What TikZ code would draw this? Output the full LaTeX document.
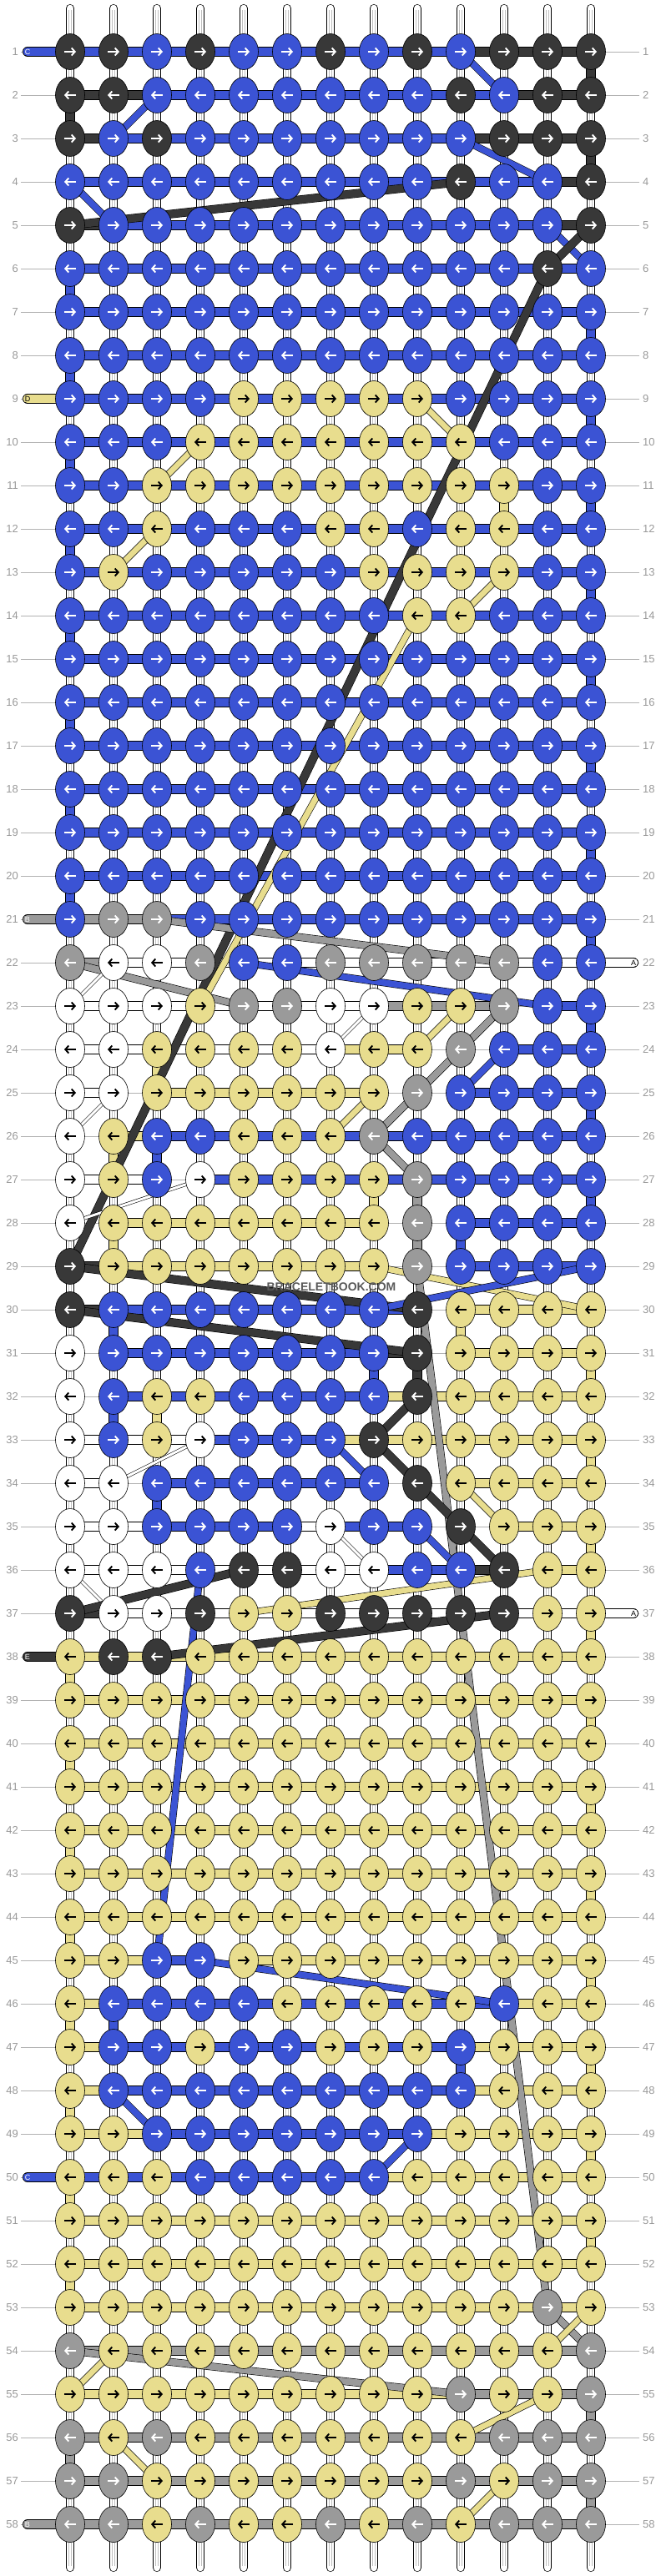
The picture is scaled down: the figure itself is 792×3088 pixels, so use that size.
\documentclass[tikz,border=0pt]{standalone}
\usepackage{fontspec}
\setmainfont{Liberation Sans}
\usetikzlibrary{shapes.geometric,arrows.meta}

\definecolor{cK}{HTML}{383838}
\definecolor{cB}{HTML}{3B53D4}
\definecolor{cY}{HTML}{E8DD8E}
\definecolor{cG}{HTML}{9A9A9A}
\definecolor{cW}{HTML}{FFFFFF}

\pgfdeclarelayer{warps}
\pgfdeclarelayer{links}
\pgfsetlayers{warps,links,main}

\tikzset{
    knot/.style={ellipse, draw=black, line width=0.6pt, minimum width=35pt,
        minimum height=43pt, inner sep=0pt},
    dirarrow/.style={line width=1.9pt, -{Straight Barb[length=4pt,width=9pt]}},
    tK/.style={draw=white}, tB/.style={draw=white}, tG/.style={draw=white},
    tY/.style={draw=black}, tW/.style={draw=black},
    link/.style={draw=black, line width=0.7pt, double distance=10.6pt},
    hK/.style={link, double=cK}, hB/.style={link, double=cB},
    hY/.style={link, double=cY}, hG/.style={link, double=cG},
    hW/.style={link, double=cW}, hN/.style={draw=none},
    slant/.style={draw=black, line width=0.6pt},
    dK/.style={slant, double=cK, double distance=9pt},
    dB/.style={slant, double=cB, double distance=7.5pt},
    dY/.style={slant, double=cY, double distance=7pt},
    dG/.style={slant, double=cG, double distance=8pt},
    dW/.style={slant, double=cW, double distance=3pt},
    warp/.style={draw=black, line width=0.7pt, double=white, double distance=8.6pt, line cap=round},
    warpcore/.style={draw=black!25, line width=0.6pt, double=white, double distance=2.8pt},
    guide/.style={draw=black!30, line width=0.9pt},
    rownum/.style={text=black!40, font=\fontsize{13}{13}\selectfont, inner sep=0pt},
    endtag/.style={draw=black, line width=0.7pt, double distance=10.6pt, line cap=round},
    tagtext/.style={font=\fontsize{9}{9}\selectfont, inner sep=0pt},
    stamp/.style={text=black!65, font=\fontsize{14}{14}\selectfont\bfseries, inner sep=0pt},
}

\begin{document}
\begin{tikzpicture}[x=1pt, y=-1pt]
    \useasboundingbox (0,0) rectangle (792,3088);

    \begin{pgfonlayer}{warps}
        \fill[white] (0,0) rectangle (792,3088);
        \foreach \kn in {1,...,13} {
            \coordinate (wt\kn) at ({84+52*(\kn-1)},10);
            \coordinate (wb\kn) at ({84+52*(\kn-1)},3078);
            \draw[warp] (wt\kn) -- (wb\kn);
            \draw[warpcore] ([yshift=-2pt]wt\kn) -- ([yshift=2pt]wb\kn);
        }
    \end{pgfonlayer}

    \foreach \rw in {1,...,58} {
        \node[rownum, anchor=east] (ln\rw) at (22,{62+52*(\rw-1)}) {\rw};
        \node[rownum, anchor=west] (rn\rw) at (770,{62+52*(\rw-1)}) {\rw};
        \begin{pgfonlayer}{warps}
            \draw[guide] ([xshift=3pt]ln\rw.east) -- ([xshift=-4pt]rn\rw.west);
        \end{pgfonlayer}
    }

    \foreach \rw/\knots/\gaps in {
        1/{K,K,B,K,B,B,K,B,K,B,K,K,K}/{B,B,B,B,B,B,B,B,B,K,K,K},
        2/{K,K,B,B,B,B,B,B,B,K,B,K,K}/{K,K,B,B,B,B,B,B,B,B,K,K},
        3/{K,B,K,B,B,B,B,B,B,B,K,K,K}/{K,B,B,B,B,B,B,B,B,K,K,K},
        4/{B,B,B,B,B,B,B,B,B,K,B,B,K}/{B,B,B,B,B,B,B,B,B,B,B,K},
        5/{K,B,B,B,B,B,B,B,B,B,B,B,K}/{K,B,B,B,B,B,B,B,B,B,B,K},
        6/{B,B,B,B,B,B,B,B,B,B,B,K,B}/{B,B,B,B,B,B,B,B,B,B,B,B},
        7/{B,B,B,B,B,B,B,B,B,B,B,B,B}/{B,B,B,B,B,B,B,B,B,B,B,B},
        8/{B,B,B,B,B,B,B,B,B,B,B,B,B}/{B,B,B,B,B,B,B,B,B,B,B,B},
        9/{B,B,B,B,Y,Y,Y,Y,Y,B,B,B,B}/{B,B,B,B,B,B,B,B,B,B,B,B},
        10/{B,B,B,Y,Y,Y,Y,Y,Y,Y,B,B,B}/{B,B,B,B,B,B,B,B,B,B,B,B},
        11/{B,B,Y,Y,Y,Y,Y,Y,Y,Y,Y,B,B}/{B,B,B,B,B,B,B,B,B,B,B,B},
        12/{B,B,Y,B,B,B,Y,Y,B,Y,Y,B,B}/{B,B,B,B,B,B,B,B,B,B,B,B},
        13/{B,Y,B,B,B,B,B,Y,Y,Y,Y,B,B}/{B,B,B,B,B,B,B,B,B,B,B,B},
        14/{B,B,B,B,B,B,B,B,Y,Y,B,B,B}/{B,B,B,B,B,B,B,B,B,B,B,B},
        15/{B,B,B,B,B,B,B,B,B,B,B,B,B}/{B,B,B,B,B,B,B,B,B,B,B,B},
        16/{B,B,B,B,B,B,B,B,B,B,B,B,B}/{B,B,B,B,B,B,B,B,B,B,B,B},
        17/{B,B,B,B,B,B,B,B,B,B,B,B,B}/{B,B,B,B,B,B,B,B,B,B,B,B},
        18/{B,B,B,B,B,B,B,B,B,B,B,B,B}/{B,B,B,B,B,B,B,B,B,B,B,B},
        19/{B,B,B,B,B,B,B,B,B,B,B,B,B}/{B,B,B,B,B,B,B,B,B,B,B,B},
        20/{B,B,B,B,B,B,B,B,B,B,B,B,B}/{B,B,B,B,B,B,B,B,B,B,B,B},
        21/{B,G,G,B,B,B,B,B,B,B,B,B,B}/{G,G,B,B,B,B,B,B,B,B,B,B},
        22/{G,W,W,G,B,B,G,G,G,G,G,B,B}/{G,W,W,W,W,W,W,W,W,W,W,W},
        23/{W,W,W,Y,G,G,W,W,Y,Y,G,B,B}/{W,W,W,W,W,W,W,G,G,G,N,B},
        24/{W,W,Y,Y,Y,Y,W,Y,Y,G,B,B,B}/{W,W,W,W,W,W,Y,Y,N,N,B,B},
        25/{W,W,Y,Y,Y,Y,Y,Y,G,B,B,B,B}/{W,N,Y,Y,Y,Y,Y,N,N,B,B,B},
        26/{W,Y,B,B,Y,Y,Y,G,B,B,B,B,B}/{N,Y,B,B,B,B,B,B,B,B,B,B},
        27/{W,Y,B,W,Y,Y,Y,Y,G,B,B,B,B}/{W,W,N,B,B,B,B,B,B,B,B,B},
        28/{W,Y,Y,Y,Y,Y,Y,Y,G,B,B,B,B}/{N,Y,Y,Y,Y,Y,Y,N,N,B,B,B},
        29/{K,Y,Y,Y,Y,Y,Y,Y,G,B,B,B,B}/{K,Y,Y,Y,Y,Y,Y,N,N,B,B,B},
        30/{K,B,B,B,B,B,B,B,K,Y,Y,Y,Y}/{K,B,B,B,B,B,B,B,N,Y,Y,Y},
        31/{W,B,B,B,B,B,B,B,K,Y,Y,Y,Y}/{N,B,B,B,B,B,B,K,N,Y,Y,Y},
        32/{W,B,Y,Y,B,B,B,B,K,Y,Y,Y,Y}/{N,B,B,B,B,B,B,Y,Y,Y,Y,Y},
        33/{W,B,Y,W,B,B,B,K,Y,Y,Y,Y,Y}/{W,W,W,B,B,B,Y,Y,Y,Y,Y,Y},
        34/{W,W,B,B,B,B,B,B,K,Y,Y,Y,Y}/{W,N,B,B,B,B,B,N,N,Y,Y,Y},
        35/{W,W,B,B,B,B,W,B,B,K,Y,Y,Y}/{W,W,B,B,B,W,B,B,N,N,Y,Y},
        36/{W,W,W,B,K,K,W,W,B,B,K,Y,Y}/{W,W,W,W,W,W,W,B,B,K,N,Y},
        37/{K,W,W,K,Y,Y,K,K,K,K,K,Y,Y}/{K,W,W,W,W,W,W,W,W,W,W,W},
        38/{Y,K,K,Y,Y,Y,Y,Y,Y,Y,Y,Y,Y}/{Y,Y,Y,Y,Y,Y,Y,Y,Y,Y,Y,Y},
        39/{Y,Y,Y,Y,Y,Y,Y,Y,Y,Y,Y,Y,Y}/{Y,Y,Y,Y,Y,Y,Y,Y,Y,Y,Y,Y},
        40/{Y,Y,Y,Y,Y,Y,Y,Y,Y,Y,Y,Y,Y}/{Y,Y,Y,Y,Y,Y,Y,Y,Y,Y,Y,Y},
        41/{Y,Y,Y,Y,Y,Y,Y,Y,Y,Y,Y,Y,Y}/{Y,Y,Y,Y,Y,Y,Y,Y,Y,Y,Y,Y},
        42/{Y,Y,Y,Y,Y,Y,Y,Y,Y,Y,Y,Y,Y}/{Y,Y,Y,Y,Y,Y,Y,Y,Y,Y,Y,Y},
        43/{Y,Y,Y,Y,Y,Y,Y,Y,Y,Y,Y,Y,Y}/{Y,Y,Y,Y,Y,Y,Y,Y,Y,Y,Y,Y},
        44/{Y,Y,Y,Y,Y,Y,Y,Y,Y,Y,Y,Y,Y}/{Y,Y,Y,Y,Y,Y,Y,Y,Y,Y,Y,Y},
        45/{Y,Y,B,B,Y,Y,Y,Y,Y,Y,Y,Y,Y}/{Y,Y,B,N,Y,Y,Y,Y,Y,Y,Y,Y},
        46/{Y,B,B,B,B,Y,Y,Y,Y,Y,B,Y,Y}/{Y,B,B,B,B,B,B,B,B,B,Y,Y},
        47/{Y,B,B,Y,B,B,Y,Y,Y,B,Y,Y,Y}/{Y,B,B,B,B,B,B,B,B,Y,Y,Y},
        48/{Y,B,B,B,B,B,B,B,B,B,Y,Y,Y}/{Y,B,B,B,B,B,B,B,B,Y,Y,Y},
        49/{Y,Y,B,B,B,B,B,B,B,Y,Y,Y,Y}/{Y,Y,B,B,B,B,B,B,Y,Y,Y,Y},
        50/{Y,Y,Y,B,B,B,B,B,Y,Y,Y,Y,Y}/{B,B,B,B,B,B,B,Y,Y,Y,Y,Y},
        51/{Y,Y,Y,Y,Y,Y,Y,Y,Y,Y,Y,Y,Y}/{Y,Y,Y,Y,Y,Y,Y,Y,Y,Y,Y,Y},
        52/{Y,Y,Y,Y,Y,Y,Y,Y,Y,Y,Y,Y,Y}/{Y,Y,Y,Y,Y,Y,Y,Y,Y,Y,Y,Y},
        53/{Y,Y,Y,Y,Y,Y,Y,Y,Y,Y,Y,G,Y}/{Y,Y,Y,Y,Y,Y,Y,Y,Y,Y,Y,Y},
        54/{G,Y,Y,Y,Y,Y,Y,Y,Y,Y,Y,Y,G}/{G,G,G,G,G,G,G,G,G,G,G,G},
        55/{Y,Y,Y,Y,Y,Y,Y,Y,Y,G,Y,Y,G}/{Y,Y,Y,Y,Y,Y,Y,Y,Y,G,G,G},
        56/{G,Y,G,Y,Y,Y,Y,Y,Y,Y,G,G,G}/{G,G,G,G,G,G,G,G,G,G,G,G},
        57/{G,G,Y,Y,Y,Y,Y,Y,Y,G,Y,G,G}/{G,G,G,G,G,G,G,G,G,G,G,G},
        58/{G,G,Y,G,Y,Y,G,Y,G,Y,G,G,G}/{G,G,G,G,G,G,G,G,G,G,G,G}%
    } {
        \ifodd\rw\relax \def\xa{-7}\def\xb{7}\else \def\xa{7}\def\xb{-7}\fi
        \foreach \kc [count=\kn] in \knots {
            \node[knot, fill=c\kc] (k\rw-\kn) at ({84+52*(\kn-1)},{62+52*(\rw-1)}) {};
            \draw[dirarrow, t\kc] ([xshift=\xa pt]k\rw-\kn.center) -- ([xshift=\xb pt]k\rw-\kn.center);
        }
        \begin{pgfonlayer}{links}
            \foreach \gc [count=\kn] in \gaps {
                \pgfmathtruncatemacro\kp{\kn+1}
                \draw[h\gc] (k\rw-\kn.center) -- (k\rw-\kp.center);
            }
        \end{pgfonlayer}
    }

    \begin{pgfonlayer}{links}
        \foreach \rw/\kn/\gc in {1/13/K, 2/1/K, 3/13/K, 6/1/B, 7/13/B, 8/1/B, 9/13/B,
            10/1/B, 11/13/B, 11/11/Y, 12/1/B, 13/13/B, 14/1/B, 15/13/B, 16/1/B,
            17/13/B, 18/1/B, 19/13/B, 20/1/B, 21/13/B, 23/13/B, 24/3/Y, 25/13/B,
            26/2/Y, 26/3/B, 27/8/Y, 27/9/G, 27/13/B, 28/2/Y, 28/9/G, 28/10/B,
            30/2/B, 30/10/Y, 31/8/B, 31/9/K, 31/13/Y, 32/2/B, 32/3/Y, 33/13/Y,
            34/3/B, 35/13/Y, 37/13/Y, 38/1/Y, 39/13/Y, 40/1/Y, 41/13/Y, 42/1/Y,
            43/13/Y, 44/1/Y, 45/13/Y, 46/1/Y, 46/2/B, 47/10/B, 47/13/Y, 48/1/Y,
            49/13/Y, 50/1/Y, 51/13/Y, 52/1/Y, 55/13/G, 56/1/G, 57/13/G} {
            \pgfmathtruncatemacro\rn{\rw+1}
            \draw[h\gc] (k\rw-\kn.center) -- (k\rn-\kn.center);
        }

        \foreach \ra/\ca/\rb/\cb/\gc in {1/10/2/11/B, 2/3/3/2/B, 3/10/4/12/B,
            4/1/5/2/B, 4/10/5/1/K, 5/12/6/13/B, 5/13/6/12/K, 6/12/29/1/K,
            9/9/10/10/Y, 10/4/11/3/Y, 12/3/13/2/Y, 13/11/14/10/Y, 14/9/23/4/Y,
            21/3/22/11/G, 22/1/23/5/G, 22/2/23/1/W, 22/5/23/12/B, 23/8/24/7/W,
            23/10/24/9/Y, 23/11/24/10/G, 24/10/25/9/G, 24/11/25/10/B, 25/2/26/1/W,
            25/8/26/7/Y, 25/9/26/8/G, 26/8/27/9/G, 27/4/28/1/W, 29/1/30/9/K,
            29/8/30/13/Y, 29/13/30/8/B, 29/9/53/12/G, 30/1/31/9/K, 32/9/33/8/K,
            33/4/34/2/W, 33/7/34/8/B, 33/8/34/9/K, 34/9/35/10/K, 34/10/35/11/Y,
            35/7/36/8/W, 35/9/36/10/B, 35/10/36/11/K, 36/1/37/2/W, 36/5/37/1/K,
            36/12/37/5/Y, 37/11/38/3/K, 36/4/45/3/B, 45/4/46/11/B, 48/2/49/3/B,
            49/9/50/8/B, 53/12/54/13/G, 53/13/54/12/Y, 54/1/55/10/G, 54/2/55/1/Y,
            55/12/56/10/Y, 56/2/57/3/Y, 57/11/58/10/Y} {
            \draw[d\gc] (k\ra-\ca.center) -- (k\rb-\cb.center);
        }
    \end{pgfonlayer}

    \foreach \rw/\tx/\ltr/\gc/\ink in {1/33/C/B/white, 9/33/D/Y/black,
        21/33/B/G/white, 38/33/E/K/white, 50/33/C/B/white, 58/33/B/G/white,
        22/759/A/W/black, 37/759/A/W/black} {
        \ifnum\tx<100 \def\kn{1}\else \def\kn{13}\fi
        \node[tagtext, text=\ink] (tag\rw) at (\tx,{62+52*(\rw-1)}) {\ltr};
        \begin{pgfonlayer}{links}
            \draw[endtag, double=c\gc] (tag\rw.center) -- (k\rw-\kn.center);
        \end{pgfonlayer}
    }

    \node[stamp] (stamp) at (397,1543) {BRACELETBOOK.COM};
\end{tikzpicture}
\end{document}
